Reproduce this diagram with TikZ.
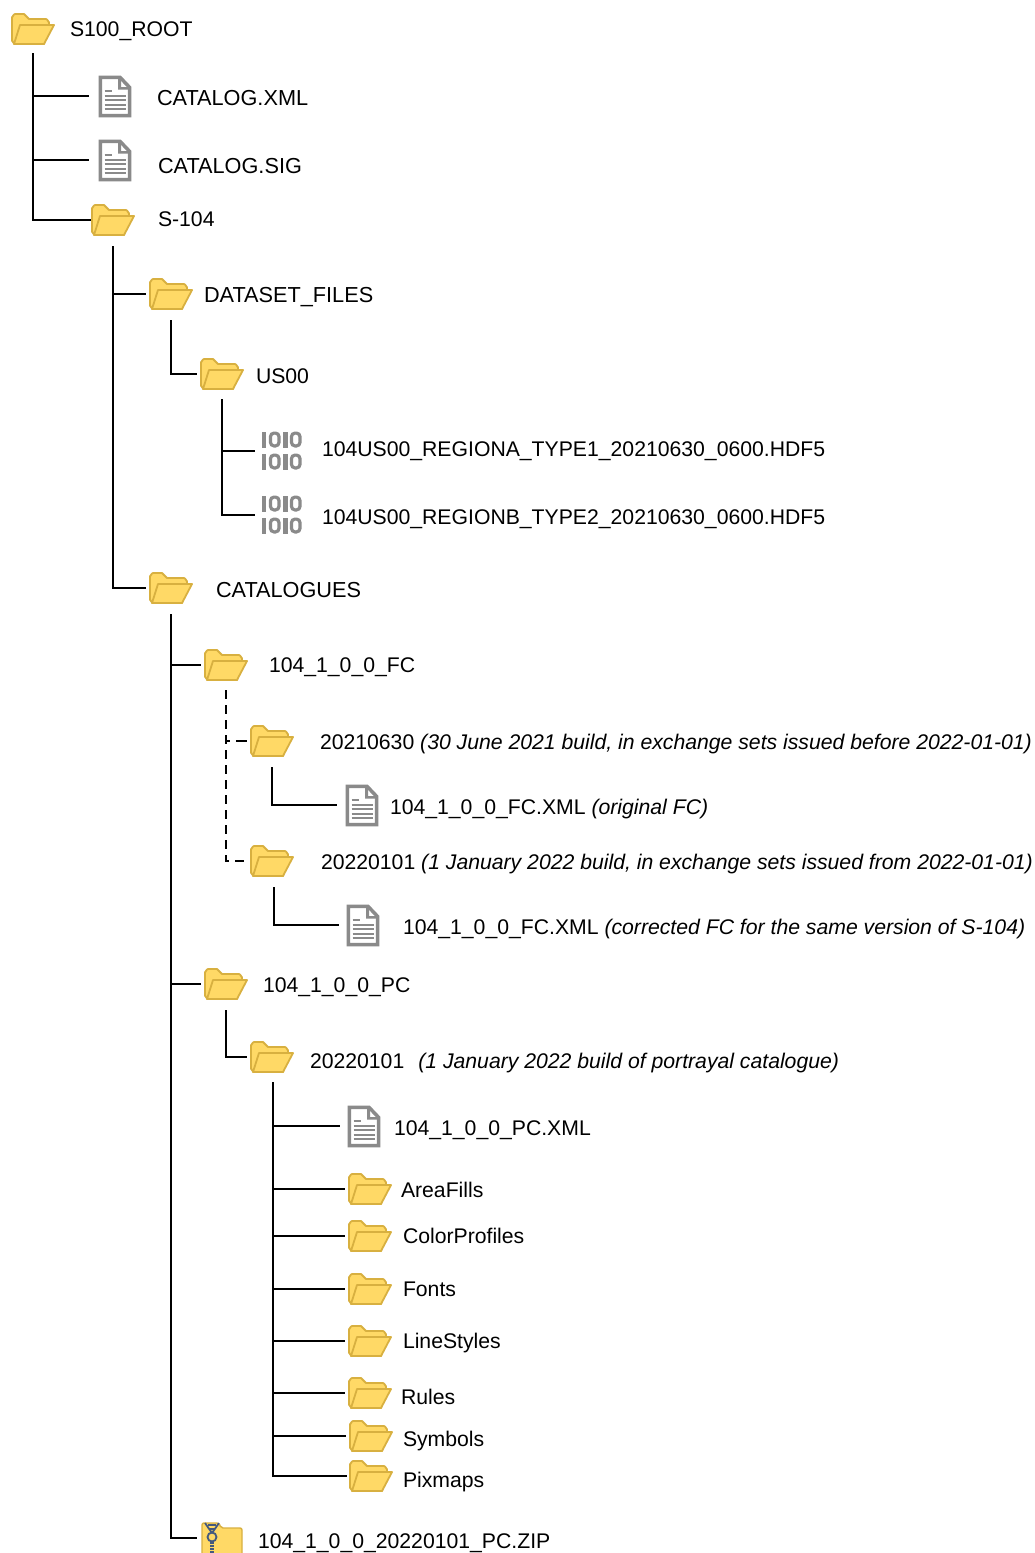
\documentclass[tikz,border=0pt]{standalone}
\usepackage{fontspec}
\setmainfont{Liberation Sans}
\definecolor{fold}{HTML}{FFD966}
\definecolor{foldb}{HTML}{D8B040}
\definecolor{docg}{HTML}{8A8A8A}
\definecolor{zipb}{HTML}{44597E}
\tikzset{
  conn/.style={draw=black,line width=2pt,line cap=butt,line join=miter},
  dconn/.style={conn,dash pattern=on 9pt off 6pt},
  dtick/.style={conn,dash pattern=on 4pt off 6pt on 11pt off 99pt},
  iconbox/.style={inner sep=0pt,outer sep=0pt,minimum width=34pt,minimum height=30pt},
  lbl/.style={anchor=west,inner sep=0pt,outer sep=0pt,text height=15pt,text depth=0pt,font=\fontsize{21.2}{25}\selectfont},
  lblw/.style={lbl,font=\fontsize{21.7}{25}\selectfont},
  folderic/.pic={
    \path[fill=fold,draw=foldb,line width=1.8pt,line join=round]
      (-21,-12) to[out=-90,in=180] (-18,-15) -- (-9,-15) -- (-4,-10) -- (13,-10)
      to[out=0,in=-90] (16,-7) -- (16,-4) -- (11,15) -- (-18,15) to[out=180,in=90] (-21,12) -- cycle;
    \path[fill=fold,draw=foldb,line width=1.8pt,line join=round]
      (-13,-4) -- (21,-4) -- (11,15) -- (-19,15) -- cycle;
  },
  docic/.pic={
    \path[draw=docg,fill=white,line width=3.5pt,line join=miter]
      (-14.7,-19.2) -- (5,-19.2) -- (14.7,-9) -- (14.7,19.2) -- (-14.7,19.2) -- cycle;
    \path[fill=docg] (3,-19) -- (3,-7) -- (14,-7) -- (14,-9.5) -- (6,-9.5) -- (6,-19) -- cycle;
    \path[draw=docg,line width=2pt]
      (-10.5,-6) -- (-3,-6) (-10.5,-1) -- (10.5,-1) (-10.5,3.5) -- (10.5,3.5) (-10.5,8) -- (10.5,8) (-10.5,12.5) -- (10.5,12.5);
  },
  binrow/.pic={
    \path[fill=docg] (-19.5,-8) rectangle (-15,8);
    \path[draw=docg,line width=3.2pt,rounded corners=3.5pt] (-10.5,-6.4) rectangle (-2,6.4);
    \path[fill=docg] (2,-8) rectangle (6.5,8);
    \path[draw=docg,line width=3.2pt,rounded corners=3.5pt] (10.5,-6.4) rectangle (19,6.4);
  },
  binic/.pic={
    \pic at (0,-11.5) {binrow};
    \pic at (0,10.5) {binrow};
  },
  zipic/.pic={
    \path[fill=fold,draw=foldb,line width=1.4pt,rounded corners=2pt]
      (-20,-15) -- (-3,-15) -- (-1,-10) -- (20,-10) -- (20,22) -- (-20,22) -- cycle;
    \path[draw=zipb,line width=1.8pt] (-17,-15) -- (-10,-5) (-3,-15) -- (-10,-5);
    \path[draw=zipb,line width=1.8pt] (-14,-13) -- (-6,-13) (-13,-9) -- (-7,-9);
    \path[draw=zipb,line width=1.8pt] (-10,-1) circle (4.5pt);
    \path[draw=zipb,line width=4pt,dash pattern=on 2pt off 1pt] (-10,4) -- (-10,16);
  },
}
\newcommand{\folderat}[3]{\node[iconbox] (#1) at (#2,#3) {}; \pic at (#2,#3) {folderic};}
\newcommand{\docat}[3]{\node[iconbox] (#1) at (#2,#3) {}; \pic at (#2,#3+0.5) {docic};}
\newcommand{\binat}[3]{\node[iconbox] (#1) at (#2,#3) {}; \pic at (#2,#3) {binic};}
\begin{document}
\begin{tikzpicture}[x=1pt,y=-1pt]
\useasboundingbox (0,0) rectangle (1035,1553);
\path[fill=white] (0,0) rectangle (1035,1553);

% icons
\folderat{root}{33}{29}
\docat{catxml}{115}{96}
\docat{catsig}{115}{160}
\folderat{sfour}{113}{220}
\folderat{dsf}{171}{294}
\folderat{usoo}{222}{374}
\binat{bina}{281}{451}
\binat{binb}{281}{515}
\folderat{cats}{171}{588}
\folderat{fc}{226}{665}
\folderat{fca}{272}{741}
\docat{fcadoc}{362}{805}
\folderat{fcb}{272}{861}
\docat{fcbdoc}{363}{925}
\folderat{pc}{226}{984}
\folderat{pca}{272}{1057}
\docat{pcdoc}{364}{1126}
\folderat{af}{370}{1189}
\folderat{cp}{370}{1236}
\folderat{fo}{370}{1289}
\folderat{ls}{370}{1341}
\folderat{ru}{370}{1393}
\folderat{sy}{371}{1436}
\folderat{px}{371}{1476}
\node[iconbox] (zip) at (222,1538) {}; \pic at (222,1538) {zipic};

% labels
\node[lbl] (troot) at (70,29) {S100\_ROOT};
\node[lblw] (tcatxml) at (157,98) {CATALOG.XML};
\node[lblw] (tcatsig) at (158,166) {CATALOG.SIG};
\node[lbl] (tsfour) at (158,219) {S-104};
\node[lblw] (tdsf) at (204,295) {DATASET\_FILES};
\node[lbl] (tusoo) at (256,376) {US00};
\node[lbl] (tbina) at (322,449) {104US00\_REGIONA\_TYPE1\_20210630\_0600.HDF5};
\node[lbl] (tbinb) at (322,517) {104US00\_REGIONB\_TYPE2\_20210630\_0600.HDF5};
\node[lblw] (tcats) at (216,590) {CATALOGUES};
\node[lbl] (tfc) at (269,665) {104\_1\_0\_0\_FC};
\node[lbl] (tfca) at (320,742) {20210630 \textit{(30 June 2021 build, in exchange sets issued before 2022-01-01)}};
\node[lbl] (tfcadoc) at (390,807) {104\_1\_0\_0\_FC.XML \textit{(original FC)}};
\node[lbl] (tfcb) at (321,862) {20220101 \textit{(1 January 2022 build, in exchange sets issued from 2022-01-01)}};
\node[lbl] (tfcbdoc) at (403,927) {104\_1\_0\_0\_FC.XML \textit{(corrected FC for the same version of S-104)}};
\node[lbl] (tpc) at (263,985) {104\_1\_0\_0\_PC};
\node[lbl] (tpca) at (310,1061) {20220101\hspace{14pt}\textit{(1 January 2022 build of portrayal catalogue)}};
\node[lbl] (tpcdoc) at (394,1128) {104\_1\_0\_0\_PC.XML};
\node[lbl] (taf) at (401,1190) {AreaFills};
\node[lbl] (tcp) at (403,1236) {ColorProfiles};
\node[lbl] (tfo) at (403,1289) {Fonts};
\node[lbl] (tls) at (403,1341) {LineStyles};
\node[lbl] (tru) at (401,1397) {Rules};
\node[lbl] (tsy) at (403,1439) {Symbols};
\node[lbl] (tpx) at (403,1480) {Pixmaps};
\node[lbl] (tzip) at (258,1541) {104\_1\_0\_0\_20220101\_PC.ZIP};

% connectors
\draw[conn] ([yshift=-9pt]root.south) |- ([xshift=-5pt]sfour.west);
\draw[conn] (root.south |- catxml.west) -- ([xshift=-9pt]catxml.west);
\draw[conn] (root.south |- catsig.west) -- ([xshift=-9pt]catsig.west);

\draw[conn] ([yshift=-11pt]sfour.south) |- ([xshift=-8pt]cats.west);
\draw[conn] (sfour.south |- dsf.west) -- ([xshift=-8pt]dsf.west);

\draw[conn] ([yshift=-11pt]dsf.south) |- ([xshift=-8pt]usoo.west);
\draw[conn] ([yshift=-10pt]usoo.south) |- ([xshift=-9pt]binb.west);
\draw[conn] (usoo.south |- bina.west) -- ([xshift=-9pt]bina.west);

\draw[conn] ([yshift=-11pt]cats.south) |- ([xshift=-8pt]zip.west);
\draw[conn] (cats.south |- fc.west) -- ([xshift=-8pt]fc.west);
\draw[conn] (cats.south |- pc.west) -- ([xshift=-8pt]pc.west);

\draw[dconn] ([yshift=-10pt]fc.south) |- ([xshift=-8pt]fcb.west);
\draw[dtick] (fc.south |- fca.west) -- ([xshift=-8pt]fca.west);

\draw[conn] ([yshift=-11pt]fca.south) |- ([xshift=-8pt]fcadoc.west);
\draw[conn] ([xshift=2pt,yshift=-11pt]fcb.south) |- ([xshift=-7pt]fcbdoc.west);

\draw[conn] ([yshift=-11pt]pc.south) |- ([xshift=-8pt]pca.west);
\draw[conn] ([xshift=1pt,yshift=-10pt]pca.south) |- ([xshift=-7pt]px.west);
\draw[conn] ([xshift=1pt]pca.south |- pcdoc.west) -- ([xshift=-7pt]pcdoc.west);
\draw[conn] ([xshift=1pt]pca.south |- af.west) -- ([xshift=-8pt]af.west);
\draw[conn] ([xshift=1pt]pca.south |- cp.west) -- ([xshift=-8pt]cp.west);
\draw[conn] ([xshift=1pt]pca.south |- fo.west) -- ([xshift=-8pt]fo.west);
\draw[conn] ([xshift=1pt]pca.south |- ls.west) -- ([xshift=-8pt]ls.west);
\draw[conn] ([xshift=1pt]pca.south |- ru.west) -- ([xshift=-8pt]ru.west);
\draw[conn] ([xshift=1pt]pca.south |- sy.west) -- ([xshift=-8pt]sy.west);
\end{tikzpicture}
\end{document}
